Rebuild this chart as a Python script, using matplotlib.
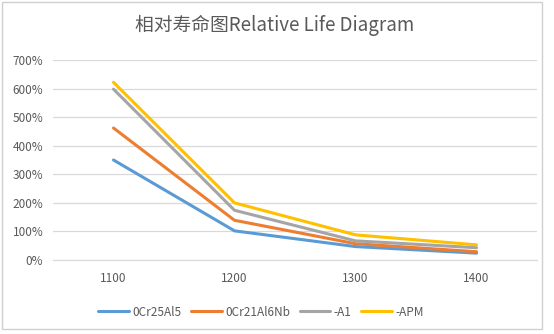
import matplotlib.pyplot as plt
from matplotlib.patches import Rectangle
from matplotlib.ticker import FuncFormatter

plt.rcParams['font.family'] = ['Noto Sans CJK SC', 'DejaVu Sans']

temps = ['1100', '1200', '1300', '1400']
series_names = ['0Cr25Al5', '0Cr21Al6Nb', '-A1', '-APM']
cr25al5 = [350, 102, 47, 24]
cr21al6nb = [462, 139, 57, 29]
a1 = [598, 174, 67, 43]
apm = [622, 200, 88, 53]
colors = ['#5b9bd5', '#ed7d31', '#a5a5a5', '#ffc000']
text_color = '#595959'

fig = plt.figure(figsize=(5.54, 3.34), dpi=100)
ax = fig.add_axes([53 / 554, 1 - 260 / 334, (537 - 53) / 554, 200 / 334])

x = range(len(temps))
for vals, name, c in zip([cr25al5, cr21al6nb, a1, apm], series_names, colors):
    ax.plot(x, vals, color=c, linewidth=2.2, label=name, solid_capstyle='round')

ax.set_xlim(-0.5, 3.5)
ax.set_ylim(0, 700)
ax.set_yticks(range(0, 701, 100))
ax.yaxis.set_major_formatter(FuncFormatter(lambda v, p: f'{int(v)}%'))
ax.set_xticks(list(x))
ax.set_xticklabels(temps)
ax.grid(axis='y', color='#d9d9d9', linewidth=0.9)
ax.set_axisbelow(True)
for side in ['top', 'right', 'left']:
    ax.spines[side].set_visible(False)
ax.spines['bottom'].set_color('#d9d9d9')
ax.tick_params(length=0, colors=text_color, labelsize=8.5)
ax.tick_params(axis='x', pad=9)
ax.tick_params(axis='y', pad=7)

fig.text(0.496, 1 - 25 / 334, '相对寿命图Relative Life Diagram', ha='center', va='center',
         fontsize=13.5, color=text_color)

leg = ax.legend(loc='center', bbox_to_anchor=(261 / 554, 1 - 312 / 334), bbox_transform=fig.transFigure,
                ncol=4, frameon=False, fontsize=8.5, handlelength=2.6, handletextpad=0.3,
                columnspacing=0.8)
for t in leg.get_texts():
    t.set_color(text_color)

fig.patches.append(Rectangle((0.003, 0.015), 0.975, 0.98, transform=fig.transFigure,
                             fill=False, edgecolor='#d0d0d0', linewidth=1))

plt.savefig('out.png', dpi=100, facecolor='white')
